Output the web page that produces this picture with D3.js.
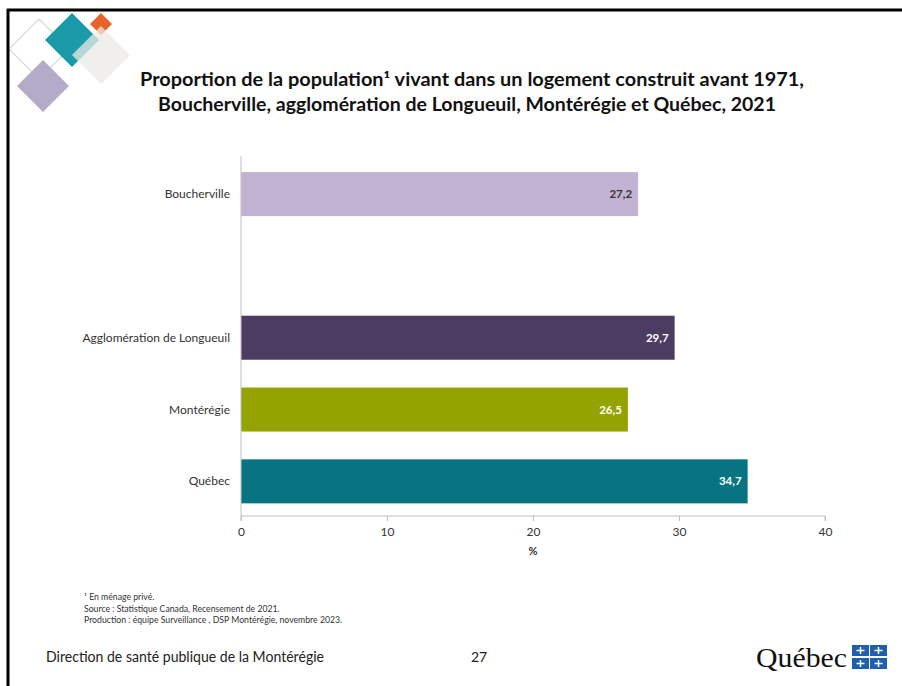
<!DOCTYPE html>
<html><head><meta charset="utf-8">
<script src="https://cdn.jsdelivr.net/npm/d3@7"></script>
<style>body{margin:0;background:#fff}svg{display:block}</style>
</head><body>
<script>
const categories = ["Boucherville", "", "Agglomération de Longueuil", "Montérégie", "Québec"];
const values = [27.2, null, 29.7, 26.5, 34.7];
const valueLabels = ["27,2", "", "29,7", "26,5", "34,7"];
const barColors = ["#c3b3d2", null, "#4d3c62", "#95a300", "#087482"];
const labelColors = ["#333333", null, "#ffffff", "#ffffff", "#ffffff"];
const xTicks = [0, 10, 20, 30, 40];
const titleLines = ["Proportion de la population¹ vivant dans un logement construit avant 1971,",
                    "Boucherville, agglomération de Longueuil, Montérégie et Québec, 2021"];
const notes = ["¹ En ménage privé.", "Source : Statistique Canada, Recensement de 2021.",
               "Production : équipe Surveillance , DSP Montérégie, novembre 2023."];

const W = 902, H = 686;
const svg = d3.select("body").append("svg").attr("width", W).attr("height", H);
const font = "Lato, 'Open Sans', sans-serif";

// slide border (top and left)
svg.append("rect").attr("x", 0).attr("y", 0).attr("width", W).attr("height", H).attr("fill", "#fff");

// decorative diamonds
function diamond(cx, cy, r, fill, stroke, op) {
  svg.append("path").attr("d", `M${cx},${cy-r}L${cx+r},${cy}L${cx},${cy+r}L${cx-r},${cy}Z`)
    .attr("fill", fill).attr("stroke", stroke || "none").attr("stroke-width", 1.2).attr("opacity", op == null ? 1 : op);
}
diamond(39, 49, 30, "none", "#d5dbd0");
diamond(72, 40, 27, "#1b9aa9", null);
diamond(101, 24, 11, "#e7632a", null);
diamond(101, 55, 29, "#ece9e6", null, 0.75);
diamond(43, 86, 26, "#b4abc9", null);

svg.append("line").attr("x1", 7).attr("x2", W).attr("y1", 10).attr("y2", 10).attr("stroke", "#000").attr("stroke-width", 3);
svg.append("line").attr("x1", 8).attr("x2", 8).attr("y1", 9).attr("y2", H).attr("stroke", "#000").attr("stroke-width", 3);

// title
svg.append("g").selectAll("text").data(titleLines).join("text")
  .attr("x", (d, i) => i ? 467 : 472).attr("y", (d, i) => 86 + i * 25)
  .attr("text-anchor", "middle").attr("font-family", font).attr("font-weight", "bold")
  .attr("font-size", 18).attr("fill", "#111")
  .attr("textLength", (d, i) => i ? 618 : 664).attr("lengthAdjust", "spacingAndGlyphs")
  .text(d => d);

// scales
const x = d3.scaleLinear().domain([0, 40]).range([241, 825]);
const y = d3.scaleBand().domain(categories.map((c, i) => i)).range([156, 516])
  .paddingInner(0.387).paddingOuter(0.2).align(0.56);

const g = svg.append("g");
const data = categories.map((c, i) => ({c, v: values[i], lab: valueLabels[i], col: barColors[i], lc: labelColors[i], i}));
const bars = data.filter(d => d.v != null);

g.selectAll("rect.bar").data(bars).join("rect").attr("class", "bar")
  .attr("x", x(0)).attr("y", d => y(d.i)).attr("width", d => x(d.v) - x(0)).attr("height", y.bandwidth())
  .attr("fill", d => d.col);

g.selectAll("text.val").data(bars).join("text").attr("class", "val")
  .attr("x", d => x(d.v) - 6).attr("y", d => y(d.i) + y.bandwidth() / 2 + 4)
  .attr("text-anchor", "end").attr("font-family", font).attr("font-weight", "bold").attr("font-size", 11.5)
  .attr("fill", d => d.lc).text(d => d.lab);

g.selectAll("text.cat").data(bars).join("text").attr("class", "cat")
  .attr("x", 230).attr("y", d => y(d.i) + y.bandwidth() / 2 + 4)
  .attr("text-anchor", "end").attr("font-family", font).attr("font-size", 12).attr("fill", "#333")
  .text(d => d.c);

// y axis line
g.append("line").attr("x1", x(0)).attr("x2", x(0)).attr("y1", 156).attr("y2", 516).attr("stroke", "#bfbfbf");

// x axis
const xa = svg.append("g").attr("transform", "translate(0,516)")
  .call(d3.axisBottom(x).tickValues(xTicks).tickSize(5).tickPadding(6).tickFormat(d3.format("d")));
xa.select(".domain").attr("stroke", "#bfbfbf").attr("d", `M${x(0)},5V0H${x(40)}V5`);
xa.selectAll(".tick line").attr("stroke", "#bfbfbf");
xa.selectAll(".tick text").attr("font-family", font).attr("font-size", 12).attr("fill", "#333");
svg.append("text").attr("x", x(20)).attr("y", 555).attr("text-anchor", "middle")
  .attr("font-family", font).attr("font-weight", "bold").attr("font-size", 11).attr("fill", "#333").text("%");

// notes
svg.append("g").selectAll("text").data(notes).join("text")
  .attr("x", 84).attr("y", (d, i) => 600 + i * 11.5).attr("font-family", font).attr("font-size", 8.7)
  .attr("fill", "#333").text(d => d);

// footer
svg.append("text").attr("x", 46).attr("y", 662).attr("font-family", font).attr("font-size", 14.5).attr("fill", "#222")
  .attr("textLength", 278).attr("lengthAdjust", "spacingAndGlyphs")
  .text("Direction de santé publique de la Montérégie");
svg.append("text").attr("x", 471).attr("y", 662).attr("font-family", font).attr("font-size", 14).attr("fill", "#222").text("27");
svg.append("text").attr("x", 756).attr("y", 667).attr("font-family", "'Liberation Serif', serif").attr("font-size", 27)
  .attr("fill", "#111").attr("textLength", 91).attr("lengthAdjust", "spacingAndGlyphs").text("Québec");
// flag squares
const flagPos = [[852, 645], [870, 645], [852, 658], [870, 658]];
flagPos.forEach(([fx, fy]) => {
  svg.append("rect").attr("x", fx).attr("y", fy).attr("width", 17).attr("height", 11).attr("fill", "#1f5fae");
  svg.append("path").attr("d", `M${fx+8.5},${fy+2}V${fy+9}M${fx+4.5},${fy+5.5}H${fx+12.5}`)
    .attr("stroke", "#fff").attr("stroke-width", 1.5);
});
</script>
</body></html>
